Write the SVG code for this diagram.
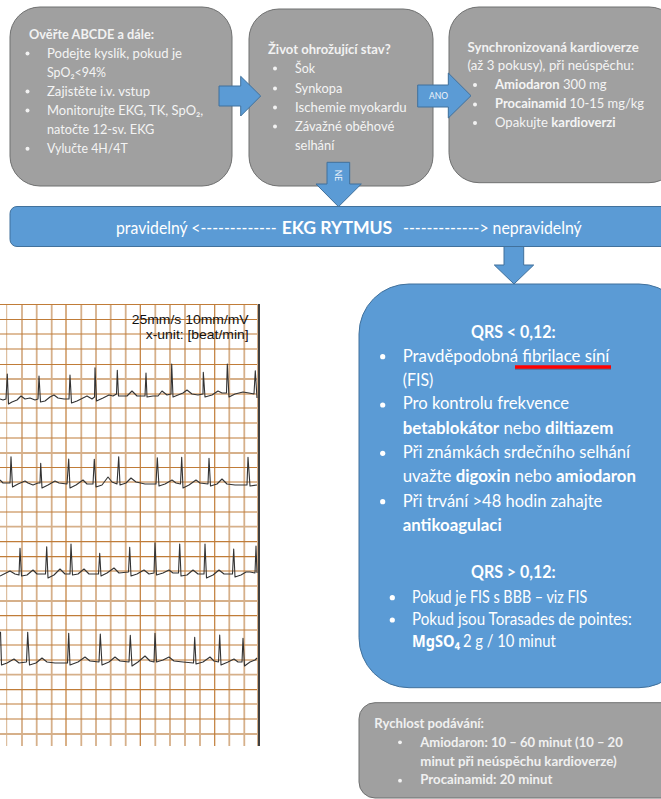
<svg xmlns="http://www.w3.org/2000/svg" width="661" height="799" viewBox="0 0 661 799">
<style>
text{font-family:Lato,"Noto Sans","Open Sans",sans-serif;fill:#f4f4f4;font-size:14px}
.b{font-weight:700}
.g{fill:#a0a0a0;stroke:#6f7070;stroke-width:1}
.n{fill:#5b9bd5;stroke:#41719c;stroke-width:1}
.a{fill:#5b9bd5;stroke:#41719c;stroke-width:1}
.d{fill:#f2f2f2}
.w{fill:#fff;font-size:16.5px}
.s{fill:#f0f0f0;font-size:12.6px;font-weight:700}
.gl{stroke:#d6b08a;stroke-width:1.8;fill:none}
.gd{stroke:#c07c38;stroke-width:1.2;fill:none}
.ecg{fill:none;stroke:#333;stroke-width:1.1;stroke-linejoin:round}
.lab{font-family:"Liberation Sans",Arial,sans-serif;fill:#111;font-size:13.3px}
.al{font-size:8.5px;fill:#eef4fb}
.mg{font-family:"Noto Sans",sans-serif;font-size:16px;font-weight:700;fill:#fff}
</style>
<g id="ecg-strip">
<path class="gl" d="M22 304V746M36.7 304V746M51.7 304V746M81.3 304V746M96 304V746M110.7 304V746M125.7 304V746M155.3 304V746M170 304V746M185 304V746M200 304V746M229.3 304V746M244.3 304V746M0 379H257M0 453H257M0 526.7H257M0 601H257M0 674.7H257M0 734H257"/>
<path class="gl" style="stroke-width:1" d="M6.7 304V746M257.5 304V746"/>
<path class="gd" d="M66 304V746M140.3 304V746M214.7 304V746M0 304.5H257M0 319.5H257M0 334H257M0 349H257M0 364.5H257M0 394H257M0 408H257M0 423H257M0 438H257M0 467.5H257M0 482H257M0 497H257M0 512H257M0 541.7H257M0 556.7H257M0 571H257M0 586H257M0 615.7H257M0 630H257M0 645H257M0 660H257M0 689.7H257M0 704H257M0 719H257"/>
<path d="M259 304V746" fill="none" stroke="#000" stroke-width="1.5"/>
<path class="ecg" d="M0,399L3,400L6,399L7.3,374L8.5,404L12,402L17,400L21,396L25,399L30,398L35,400L38,399L39,376L40.5,402L45,401L50,397L54,395L58,398L64,399L69,399L70,375L71.5,403L77,401L83,398L87,396L92,399L94.5,397L95,367.7L96.5,401L103,398L109,395L113,396L116.5,394L117.3,370.3L118.5,396L122,396L127,396L132,391L137,396L145,396L146,373L147,397L153,396L158,396L162,391L167,395L171,394L171.7,364L173,397L178,395L183,393L187,390L192,394L198,395L203,394L203.3,372.3L205,397L212,395L218,391L222,393L226.5,393L227.3,364L229,397L235,394L243,392L249,393L254,394L255.3,370.7L257,398"/>
<path class="ecg" d="M0,480L3,483L10,483L11,456.7L12.5,487L18,484L25,481L28,483L33,485L38,483L40,483L40.7,463.3L42,488L48,485L55,481L59,483L67,484L68.7,459L70,488L76,485L83,480L87,484L93,484L94.3,459.3L96,487L102,485L108,477L112,482L117,484L118.7,456.7L120,485L126,483L131,478L136,482L145,484L156,484L157.3,457.7L159,486L165,484L172,480L176,483L180.5,484L181.7,457.3L183,488L189,485L196,480L200,483L208,484L209,458.3L210.5,486L217,484L222,479L227,484L235,485L247,485L248,457.3L250,486L257,485"/>
<path class="ecg" d="M0,576L4,574L10,571L15,574L19,575L20,548.3L21.5,576L27,575L33,570L37,574L45.5,574L46.7,546.7L48,578L54,575L60,569L65,574L70,574L71,544L72.5,575L78,574L84,569L89,574L98.5,574L99.7,553.3L101,576L107,573L114,568L119,573L128.5,572L129.7,547.3L131,576L137,574L144,570L149,574L154,573L155,542.7L156.5,575L163,573L169,570L173,573L178.5,573L179.7,544L181,576L187,575L193,570L198,574L204,574L205,544L206.5,578L213,575L219,570L224,574L232.5,574L233.7,549L235,577L241,575L246,572L250,572L255,573L256,546L257,573"/>
<path class="ecg" d="M0.5,631.7L1.5,665L7,663L14,659L19,663L26.5,662L27.7,632.3L29.5,665L36,663L42,658L47,662L55,663L67.5,663L68.7,633.3L70,665L78,662L85,657L90,661L99,662L100.3,634L102,665L109,662L115,657L120,661L129,662L130.3,635.3L132,666L138,662L145,656L150,661L154,662L155,633.3L156.5,662L163,660L169,657L174,661L183,662L193.5,663L194.7,637.3L196,664L203,662L210,657L214,661L218.5,662L219.7,635L221,665L228,662L234,659L238,662L242,662L243,638.3L244.5,666L250,662L255,660L257,658"/>
<text class="lab" x="131.7" y="324" textLength="117" lengthAdjust="spacingAndGlyphs">25mm/s 10mm/mV</text>
<text class="lab" x="145.7" y="339" textLength="103" lengthAdjust="spacingAndGlyphs">x-unit: [beat/min]</text>
</g>
<g id="node-abcde">
<rect class="g" x="10" y="7" width="222" height="179" rx="30"/>
<text class="b d" x="29" y="38.7" textLength="125" lengthAdjust="spacingAndGlyphs">Ověřte ABCDE a dále:</text>
<g class="d"><circle cx="27.5" cy="53.5" r="2"/><circle cx="27.5" cy="91.5" r="2"/><circle cx="27.5" cy="110.5" r="2"/><circle cx="27.5" cy="148.7" r="2"/></g>
<text x="47" y="58" textLength="135" lengthAdjust="spacingAndGlyphs">Podejte kyslík, pokud je</text>
<text x="47" y="76.5" textLength="59" lengthAdjust="spacingAndGlyphs">SpO₂&lt;94%</text>
<text x="47" y="96" textLength="103" lengthAdjust="spacingAndGlyphs">Zajistěte i.v. vstup</text>
<text x="47" y="115" textLength="156.3" lengthAdjust="spacingAndGlyphs">Monitorujte EKG, TK, SpO₂,</text>
<text x="47" y="134" textLength="107.3" lengthAdjust="spacingAndGlyphs">natočte 12-sv. EKG</text>
<text x="47" y="153" textLength="80.7" lengthAdjust="spacingAndGlyphs">Vylučte 4H/4T</text>
</g>
<g id="node-stav">
<rect class="g" x="249" y="9" width="184" height="177" rx="30"/>
<text class="b d" x="268" y="53.5" textLength="122.7" lengthAdjust="spacingAndGlyphs">Život ohrožující stav?</text>
<g class="d"><circle cx="275" cy="68.5" r="2"/><circle cx="275" cy="88.5" r="2"/><circle cx="275" cy="107.5" r="2"/><circle cx="275" cy="126.5" r="2"/></g>
<text x="295" y="72.7" textLength="20" lengthAdjust="spacingAndGlyphs">Šok</text>
<text x="295" y="92.7" textLength="47.3" lengthAdjust="spacingAndGlyphs">Synkopa</text>
<text x="295" y="111.7" textLength="111.7" lengthAdjust="spacingAndGlyphs">Ischemie myokardu</text>
<text x="295" y="130.7" textLength="99.3" lengthAdjust="spacingAndGlyphs">Závažné oběhové</text>
<text x="295" y="150" textLength="39.3" lengthAdjust="spacingAndGlyphs">selhání</text>
</g>
<g id="node-kardioverze">
<rect class="g" x="449" y="7" width="230" height="175.7" rx="30"/>
<text class="b d" x="467.5" y="51.7" textLength="171.2" lengthAdjust="spacingAndGlyphs">Synchronizovaná kardioverze</text>
<text x="467.5" y="70" textLength="166.5" lengthAdjust="spacingAndGlyphs">(až 3 pokusy), při neúspěchu:</text>
<g class="d"><circle cx="475" cy="85" r="2"/><circle cx="475" cy="104.5" r="2"/><circle cx="475" cy="123" r="2"/></g>
<text x="495" y="89" textLength="111.7" lengthAdjust="spacingAndGlyphs"><tspan class="b">Amiodaron</tspan> 300 mg</text>
<text x="495" y="108" textLength="149" lengthAdjust="spacingAndGlyphs"><tspan class="b">Procainamid</tspan> 10-15 mg/kg</text>
<text x="495" y="127.3" textLength="120.7" lengthAdjust="spacingAndGlyphs">Opakujte <tspan class="b">kardioverzi</tspan></text>
</g>
<g id="connectors">
<path class="a" d="M219 86H240.7V76.3L260.7 96L240.7 116V106H219Z"/>
<path class="a" d="M417.7 85H448.3V73L471 95.7L448.3 118V107H417.7Z"/>
<path class="a" d="M327 162.3H349.7V184H361.3L338.5 206.7L316 184H327Z"/>
<path class="a" d="M504 246H523.7V265H533.7L514 284L494.3 265H504Z"/>
<text class="al" x="438.5" y="99" text-anchor="middle">ANO</text>
<text class="al" transform="translate(335 175.5) rotate(90)" text-anchor="middle">NE</text>
</g>
<g id="node-rytmus">
<rect class="n" x="10" y="206.5" width="670" height="40" rx="7"/>
<text class="w" x="116" y="234" textLength="160.7" lengthAdjust="spacingAndGlyphs">pravidelný &lt;-------------</text>
<text class="w b" x="281.7" y="234" textLength="110.6" lengthAdjust="spacingAndGlyphs">EKG RYTMUS</text>
<text class="w" x="403" y="234" textLength="178.7" lengthAdjust="spacingAndGlyphs">-------------&gt; nepravidelný</text>
</g>
<g id="node-qrs">
<rect class="n" x="359" y="284" width="330" height="403.7" rx="50"/>
<text class="w b" x="471" y="338.3" textLength="84.7" lengthAdjust="spacingAndGlyphs">QRS &lt; 0,12:</text>
<g fill="#fff"><circle cx="382.7" cy="356.7" r="2.6"/><circle cx="382.7" cy="405" r="2.6"/><circle cx="382.7" cy="453.3" r="2.6"/><circle cx="382.7" cy="501.7" r="2.6"/><circle cx="392.3" cy="597.7" r="2.6"/><circle cx="392.3" cy="620" r="2.6"/></g>
<text class="w" x="402.7" y="361.7" textLength="206.6" lengthAdjust="spacingAndGlyphs">Pravděpodobná fibrilace síní</text>
<text class="w" x="402.7" y="386" textLength="30.6" lengthAdjust="spacingAndGlyphs">(FIS)</text>
<text class="w" x="402.7" y="409.3" textLength="166.3" lengthAdjust="spacingAndGlyphs">Pro kontrolu frekvence</text>
<text class="w" x="402.7" y="434" textLength="210.6" lengthAdjust="spacingAndGlyphs"><tspan class="b">betablokátor</tspan> nebo <tspan class="b">diltiazem</tspan></text>
<text class="w" x="402.7" y="458" textLength="227.3" lengthAdjust="spacingAndGlyphs">Při známkách srdečního selhání</text>
<text class="w" x="402.7" y="481.7" textLength="233.3" lengthAdjust="spacingAndGlyphs">uvažte <tspan class="b">digoxin</tspan> nebo <tspan class="b">amiodaron</tspan></text>
<text class="w" x="402.7" y="506.7" textLength="199.6" lengthAdjust="spacingAndGlyphs">Při trvání &gt;48 hodin zahajte</text>
<text class="w b" x="402.7" y="530.7" textLength="99" lengthAdjust="spacingAndGlyphs">antikoagulaci</text>
<text class="w b" x="471" y="577.7" textLength="84.7" lengthAdjust="spacingAndGlyphs">QRS &gt; 0,12:</text>
<text class="w" x="412" y="602.7" textLength="175.3" lengthAdjust="spacingAndGlyphs">Pokud je FIS s BBB – viz FIS</text>
<text class="w" x="412" y="625" textLength="219.7" lengthAdjust="spacingAndGlyphs">Pokud jsou Torasades de pointes:</text>
<text class="mg" x="412" y="646.7" textLength="48" lengthAdjust="spacingAndGlyphs">MgSO₄</text>
<text class="w" x="463" y="646.7" textLength="92.7" lengthAdjust="spacingAndGlyphs">2 g / 10 minut</text>
<path d="M515 368.2H611" fill="none" stroke="#44546a" stroke-opacity=".45" stroke-width="3.5"/>
<path d="M515 367H611" fill="none" stroke="#f00" stroke-width="3.5"/>
</g>
<g id="node-rychlost">
<rect class="g" x="359" y="702.7" width="330" height="95.3" rx="16"/>
<text class="s" x="374.3" y="727.7" textLength="109.7" lengthAdjust="spacingAndGlyphs">Rychlost podávání:</text>
<g class="d"><circle cx="400" cy="742.3" r="1.9"/><circle cx="400" cy="780.7" r="1.9"/></g>
<text class="s" x="420.3" y="746.7" textLength="202.4" lengthAdjust="spacingAndGlyphs">Amiodaron: 10 – 60 minut (10 – 20</text>
<text class="s" x="420.3" y="766" textLength="196.4" lengthAdjust="spacingAndGlyphs">minut při neúspěchu kardioverze)</text>
<text class="s" x="420.3" y="784.3" textLength="132" lengthAdjust="spacingAndGlyphs">Procainamid: 20 minut</text>
</g>
</svg>
